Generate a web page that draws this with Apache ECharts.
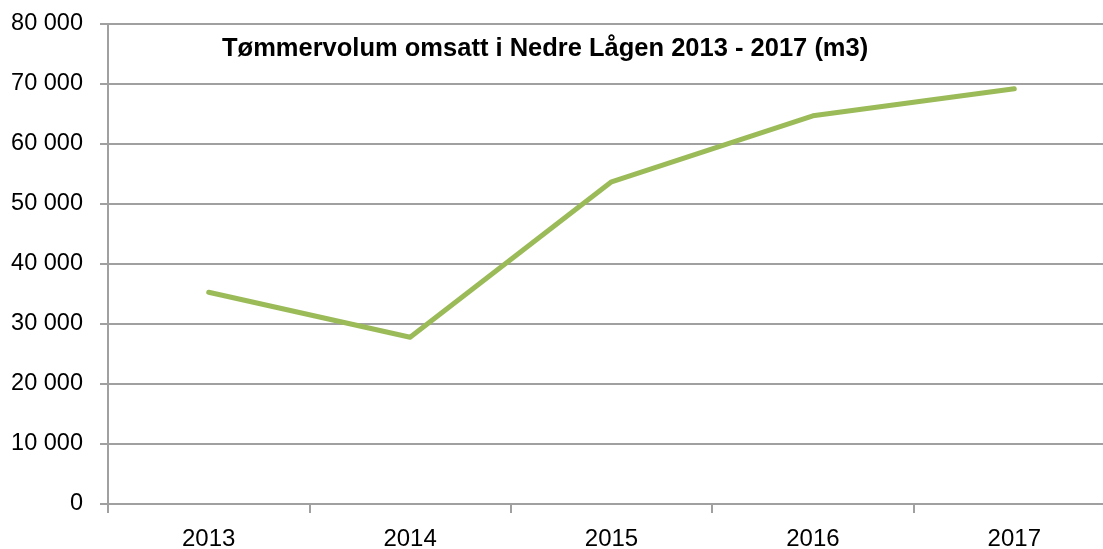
<!DOCTYPE html>
<html>
<head>
<meta charset="utf-8">
<script src="https://cdn.jsdelivr.net/npm/echarts@6/dist/echarts.min.js"></script>
<style>
  html, body { margin: 0; padding: 0; background: #fff; }
  #chart { width: 1103px; height: 549px; }
</style>
</head>
<body>
<div id="chart"></div>
<script>
const years = ["2013", "2014", "2015", "2016", "2017"];
const volume = [35300, 27800, 53700, 64700, 69200];
const TITLE = "Tømmervolum omsatt i Nedre Lågen 2013 - 2017 (m3)";

const gridColor = "#a0a0a0";

function formatThousands(val) {
  return String(val).replace(/\B(?=(\d{3})+(?!\d))/g, " ");
}

const chart = echarts.init(document.getElementById("chart"));
chart.setOption({
  animation: false,
  title: {
    text: TITLE,
    left: 217,
    top: 31,
    textStyle: {
      fontFamily: "Liberation Sans",
      fontWeight: "bold",
      fontSize: 25.5,
      color: "#000",
    },
  },
  // plot area runs past the right edge of the picture, as in the original
  grid: { left: 108, width: 1007, top: 24, bottom: 45, outerBoundsMode: "none" },
  xAxis: {
    type: "category",
    data: years,
    boundaryGap: true,
    axisLine: { show: false },
    axisTick: { show: true, length: 9, lineStyle: { color: gridColor, width: 2 } },
    axisLabel: {
      margin: 23,
      color: "#000",
      fontFamily: "Liberation Sans",
      fontSize: 24,
    },
    splitLine: { show: false },
  },
  yAxis: {
    type: "value",
    min: 0,
    max: 80000,
    interval: 10000,
    axisLine: { show: true, lineStyle: { color: gridColor, width: 2 } },
    axisTick: { show: true, length: 8, lineStyle: { color: gridColor, width: 2 } },
    axisLabel: {
      margin: 25,
      color: "#000",
      fontFamily: "Liberation Sans",
      fontSize: 23.5,
      formatter: formatThousands,
    },
    splitLine: { show: true, lineStyle: { color: gridColor, width: 2 } },
  },
  series: [
    {
      type: "line",
      data: volume,
      symbol: "none",
      lineStyle: { color: "#9bbb59", width: 5, cap: "round", join: "round" },
    },
  ],
});
</script>
</body>
</html>
